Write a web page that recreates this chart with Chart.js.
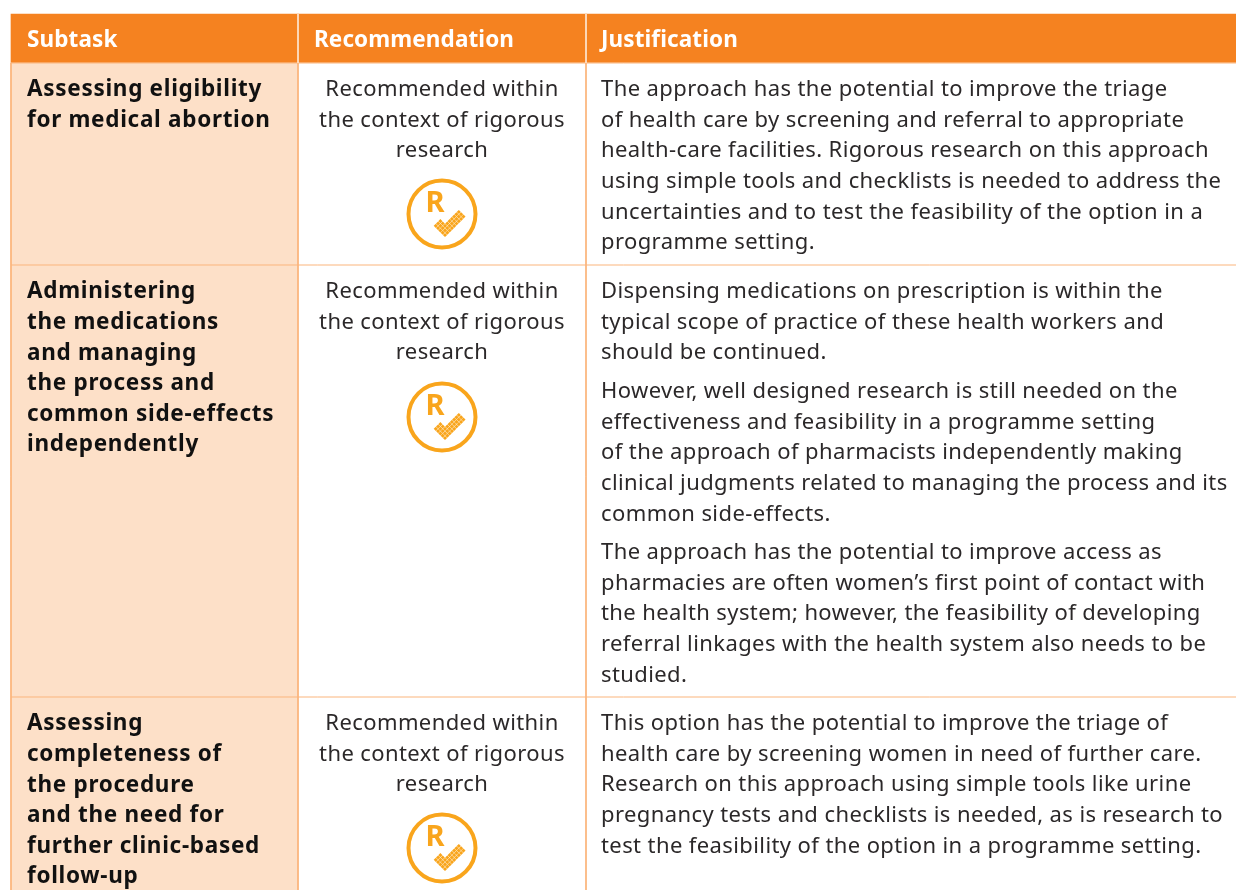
<!DOCTYPE html>
<html>
<head>
<meta charset="utf-8">
<title>Subtask recommendations</title>
<script src="https://cdn.jsdelivr.net/npm/chart.js@4"></script>
<style>
    html, body { margin: 0; padding: 0; background: #fff; overflow: hidden; }
    canvas { display: block; }
</style>
</head>
<body>
<canvas id="tableChart" width="1236" height="890"></canvas>
<script>
// Table content
const headers = ['Subtask', 'Recommendation', 'Justification'];
const subtasks = [
    ['Assessing eligibility', 'for medical abortion'],
    ['Administering', 'the medications', 'and managing', 'the process and', 'common side-effects', 'independently'],
    ['Assessing', 'completeness of', 'the procedure', 'and the need for', 'further clinic-based', 'follow-up']
];
const recommendation = ['Recommended within', 'the context of rigorous', 'research'];
const justifications = [
    [[
        'The approach has the potential to improve the triage',
        'of health care by screening and referral to appropriate',
        'health-care facilities. Rigorous research on this approach',
        'using simple tools and checklists is needed to address the',
        'uncertainties and to test the feasibility of the option in a',
        'programme setting.'
    ]],
    [[
        'Dispensing medications on prescription is within the',
        'typical scope of practice of these health workers and',
        'should be continued.'
    ], [
        'However, well designed research is still needed on the',
        'effectiveness and feasibility in a programme setting',
        'of the approach of pharmacists independently making',
        'clinical judgments related to managing the process and its',
        'common side-effects.'
    ], [
        'The approach has the potential to improve access as',
        'pharmacies are often women\u2019s first point of contact with',
        'the health system; however, the feasibility of developing',
        'referral linkages with the health system also needs to be',
        'studied.'
    ]],
    [[
        'This option has the potential to improve the triage of',
        'health care by screening women in need of further care.',
        'Research on this approach using simple tools like urine',
        'pregnancy tests and checklists is needed, as is research to',
        'test the feasibility of the option in a programme setting.'
    ]]
];

// Table geometry, in scale units
const colEdges = [11, 298, 586, 1236];
const rowEdges = [14, 63, 265, 697, 890];
const iconRows = [214, 417, 848];
const rowTextTop = [90, 292, 724];
const paragraphTops = [[90], [292, 392, 553], [724]];

const LINE_HEIGHT = 30.6;
const ORANGE = '#f58220';
const PEACH = '#fde0c8';
const RULE = '#fbb57c';
const ICON = '#f9a51c';
const INK = '#2b2829';
const FONT = '"Noto Sans", sans-serif';

function columnDataset(col, bodyColor) {
    const data = [];
    const colors = [];
    for (let r = 0; r < rowEdges.length - 1; r++) {
        data.push({ x: (colEdges[col] + colEdges[col + 1]) / 2, y: [rowEdges[r], rowEdges[r + 1]] });
        colors.push(r === 0 ? ORANGE : bodyColor);
    }
    return {
        type: 'bar',
        data: data,
        backgroundColor: colors,
        borderWidth: 0,
        barThickness: colEdges[col + 1] - colEdges[col],
        grouped: false,
        order: 3
    };
}

function ruleDataset(points, color) {
    return {
        type: 'line',
        data: points,
        borderColor: color,
        borderWidth: 1,
        pointRadius: 0,
        fill: false,
        order: 2
    };
}

const datasets = [
    columnDataset(0, PEACH),
    columnDataset(1, '#ffffff'),
    columnDataset(2, '#ffffff')
];

// Grid rules
const lastRow = rowEdges.length - 1;
const lastCol = colEdges.length - 1;
colEdges.slice(0, lastCol).forEach((x, i) => {
    if (i > 0) datasets.push(ruleDataset([{ x: x, y: rowEdges[0] }, { x: x, y: rowEdges[1] }], '#fde3cc'));
    datasets.push(ruleDataset([{ x: x, y: rowEdges[1] }, { x: x, y: rowEdges[lastRow] }], RULE));
});
rowEdges.slice(1, lastRow).forEach(y => {
    datasets.push(ruleDataset([{ x: colEdges[0], y: y }, { x: colEdges[lastCol], y: y }], RULE));
});

// Icon rings
datasets.push({
    type: 'scatter',
    data: iconRows.map(y => ({ x: (colEdges[1] + colEdges[2]) / 2, y: y })),
    pointStyle: 'circle',
    pointRadius: 33.5,
    pointBackgroundColor: 'rgba(255,255,255,0)',
    pointBorderColor: ICON,
    pointBorderWidth: 4,
    order: 1
});

function drawLine(ctx, text, x, y, font, color, align, spacing) {
    ctx.font = font;
    ctx.fillStyle = color;
    ctx.textAlign = align;
    ctx.textBaseline = 'middle';
    ctx.letterSpacing = spacing;
    ctx.fillText(text, x, y);
}

const tableText = {
    id: 'tableText',
    afterDatasetsDraw(chart) {
        const ctx = chart.ctx;
        const xs = chart.scales.x;
        const ys = chart.scales.y;
        const px = v => xs.getPixelForValue(v);
        const py = v => ys.getPixelForValue(v);
        const cellLeft = [colEdges[0] + 16, colEdges[1] + 16, colEdges[2] + 15];
        ctx.save();

        headers.forEach((h, i) => {
            drawLine(ctx, h, px(cellLeft[i]), py(41), 'bold 22.5px ' + FONT, '#ffffff', 'left', '0.1px');
        });

        subtasks.forEach((lines, r) => {
            lines.forEach((line, i) => {
                drawLine(ctx, line, px(cellLeft[0]), py(rowTextTop[r] + i * LINE_HEIGHT), 'bold 22.5px ' + FONT, '#111111', 'left', '0.7px');
            });
        });

        rowTextTop.forEach(top => {
            recommendation.forEach((line, i) => {
                drawLine(ctx, line, px((colEdges[1] + colEdges[2]) / 2), py(top + i * LINE_HEIGHT), '22px ' + FONT, INK, 'center', '0.4px');
            });
        });

        justifications.forEach((paragraphs, r) => {
            paragraphs.forEach((lines, p) => {
                lines.forEach((line, i) => {
                    drawLine(ctx, line, px(cellLeft[2]), py(paragraphTops[r][p] + i * LINE_HEIGHT), '22px ' + FONT, INK, 'left', '0.4px');
                });
            });
        });

        // R and dotted tick inside each ring
        iconRows.forEach(y => {
            const cx = px((colEdges[1] + colEdges[2]) / 2);
            const cy = py(y);
            drawLine(ctx, 'R', cx - 7, cy - 10, 'bold 29px ' + FONT, ICON, 'center', '0px');
            ctx.fillStyle = ICON;
            const step = 2.3;
            for (let v = -4; v <= 0; v++) {
                for (let u = 0; u <= 8; u++) {
                    if (u > 2 && v < -2) continue;
                    const dx = 3 + (u + v) * step;
                    const dy = 21 + (v - u) * step;
                    ctx.beginPath();
                    ctx.moveTo(cx + dx, cy + dy - 2.1);
                    ctx.lineTo(cx + dx + 2.1, cy + dy);
                    ctx.lineTo(cx + dx, cy + dy + 2.1);
                    ctx.lineTo(cx + dx - 2.1, cy + dy);
                    ctx.closePath();
                    ctx.fill();
                }
            }
        });
        ctx.restore();
    }
};

new Chart(document.getElementById('tableChart').getContext('2d'), {
    data: { datasets: datasets },
    options: {
        responsive: false,
        animation: false,
        layout: { padding: 0, autoPadding: false },
        plugins: { legend: { display: false }, tooltip: { enabled: false } },
        scales: {
            x: { type: 'linear', min: 0, max: 1236, offset: false, display: false },
            y: { type: 'linear', min: 0, max: 890, reverse: true, display: false }
        }
    },
    plugins: [tableText]
});
</script>
</body>
</html>
